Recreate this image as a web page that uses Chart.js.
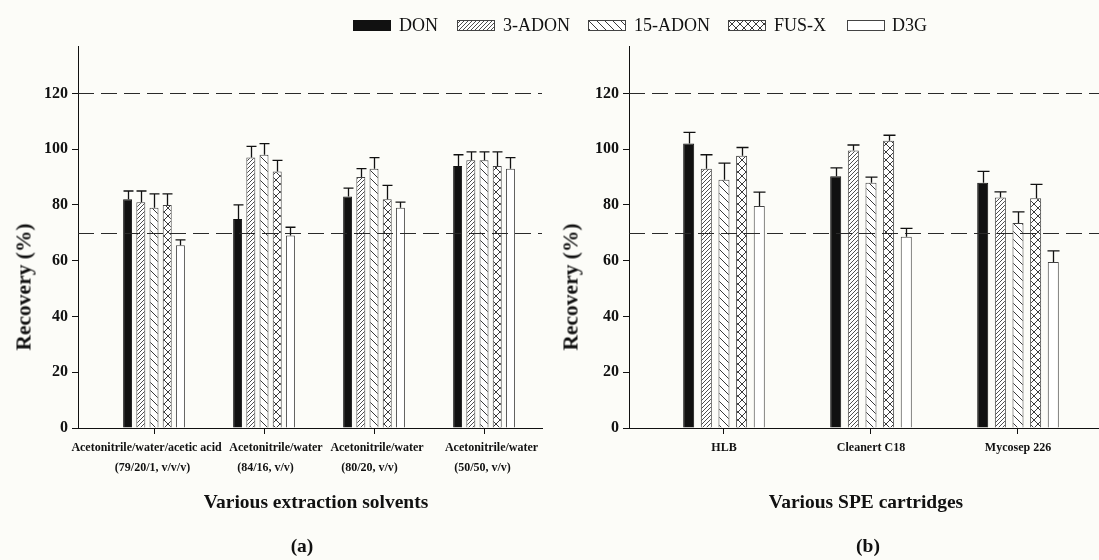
<!DOCTYPE html>
<html>
<head>
<meta charset="utf-8">
<script src="https://cdn.jsdelivr.net/npm/chart.js@4/dist/chart.umd.min.js"></script>
<style>
  html, body { margin:0; padding:0; background:#fcfcf8; }
  body { width:1099px; height:560px; position:relative; overflow:hidden; font-family:"Liberation Serif","Times New Roman",serif; color:#111; }
  canvas.chart { position:absolute; top:0; }
  .t { position:absolute; white-space:nowrap; font-weight:bold; transform:translate(-50%,-50%); }
  .ytitle { position:absolute; white-space:nowrap; font-weight:bold; font-size:21.5px; transform:translate(-50%,-50%) rotate(-90deg); }
  .leg { position:absolute; top:15px; height:20px; display:flex; align-items:center; font-size:18px; }
</style>
</head>
<body>
<canvas id="cA" class="chart" width="560" height="560" style="left:0px"></canvas>
<canvas id="cB" class="chart" width="549" height="560" style="left:550px"></canvas>
<div id="legend"></div>
<div class="ytitle" style="left:24px; top:287px;">Recovery (%)</div>
<div class="ytitle" style="left:571px; top:287px;">Recovery (%)</div>
<div class="t" style="left:316px; top:502px; font-size:19.5px;">Various extraction solvents</div>
<div class="t" style="left:302px; top:546px; font-size:19.5px;">(a)</div>
<div class="t" style="left:866px; top:502px; font-size:19.5px;">Various SPE cartridges</div>
<div class="t" style="left:868px; top:546px; font-size:19.5px;">(b)</div>
<script>
// ---------- data ----------
const seriesNames = ['DON', '3-ADON', '15-ADON', 'FUS-X', 'D3G'];
const categoriesA = [
  ['Acetonitrile/water/acetic acid', '(79/20/1, v/v/v)'],
  ['Acetonitrile/water', '(84/16, v/v)'],
  ['Acetonitrile/water', '(80/20, v/v)'],
  ['Acetonitrile/water', '(50/50, v/v)']
];
const categoriesB = ['HLB', 'Cleanert C18', 'Mycosep 226'];

const donA = [82, 75, 83, 94];
const donAErr = [3, 5, 3, 4];
const adon3A = [81, 97, 90, 96];
const adon3AErr = [4, 4, 3, 3];
const adon15A = [79, 98, 93, 96];
const adon15AErr = [5, 4, 4, 3];
const fusxA = [80, 92, 82, 94];
const fusxAErr = [4, 4, 5, 5];
const d3gA = [65.5, 69, 79, 93];
const d3gAErr = [2, 3, 2, 4];

const donB = [102, 90.3, 88];
const donBErr = [4, 3, 4];
const adon3B = [93, 99.5, 82.7];
const adon3BErr = [5, 2, 2];
const adon15B = [89, 88, 73.5];
const adon15BErr = [6, 2, 4];
const fusxB = [97.6, 103, 82.4];
const fusxBErr = [3, 2, 5];
const d3gB = [79.6, 68.6, 59.5];
const d3gBErr = [5, 3, 4];

const yTicks = [0, 20, 40, 60, 80, 100, 120];
const yMax = 137;
const refLines = [70, 120];

// label horizontal nudges (px) per line, as in the original figure
const labelShiftA = [[-8, -2], [12, 1], [3, -5], [8, -1]];
const labelShiftB = [[0], [0], [0]];

function shiftText(text, px) {
  const n = Math.round(Math.abs(px) * 2 / 3);
  const sp = ' '.repeat(n);
  return px > 0 ? sp + text : text + sp;
}

// ---------- patterns ----------
function makePattern(kind) {
  const s = kind === 'fwd' ? 4 : 8;
  const c = document.createElement('canvas');
  c.width = s; c.height = s;
  const g = c.getContext('2d');
  g.fillStyle = '#ffffff';
  g.fillRect(0, 0, s, s);
  if (kind === 'none') return g.createPattern(c, 'repeat');
  g.strokeStyle = '#3a3a3a';
  g.lineWidth = kind === 'fwd' ? 0.9 : 1;
  g.beginPath();
  if (kind === 'fwd' || kind === 'cross') {
    g.moveTo(-1, s + 1); g.lineTo(s + 1, -1);
    g.moveTo(-1, 1); g.lineTo(1, -1);
    g.moveTo(s - 1, s + 1); g.lineTo(s + 1, s - 1);
  }
  if (kind === 'back' || kind === 'cross') {
    g.moveTo(-1, -1); g.lineTo(s + 1, s + 1);
    g.moveTo(s - 1, -1); g.lineTo(s + 1, 1);
    g.moveTo(-1, s - 1); g.lineTo(1, s + 1);
  }
  g.stroke();
  return g.createPattern(c, 'repeat');
}
const fills = ['#111111', makePattern('fwd'), makePattern('back'), makePattern('cross'), '#ffffff'];

// ---------- legend ----------
const legendPos = [[353, 399], [457, 503], [588, 634], [728, 774], [847, 892]];
const legendDiv = document.getElementById('legend');
seriesNames.forEach((name, i) => {
  const item = document.createElement('div');
  item.className = 'leg';
  item.style.left = legendPos[i][0] + 'px';
  const sw = document.createElement('canvas');
  sw.width = 38; sw.height = 11;
  const g = sw.getContext('2d');
  g.fillStyle = fills[i];
  g.fillRect(0, 0, 38, 11);
  g.strokeStyle = i === 0 ? '#111' : '#444';
  g.lineWidth = 1;
  g.strokeRect(0.5, 0.5, 37, 10);
  sw.style.marginRight = (legendPos[i][1] - legendPos[i][0] - 38) + 'px';
  item.appendChild(sw);
  const tx = document.createElement('span');
  tx.textContent = name;
  item.appendChild(tx);
  legendDiv.appendChild(item);
});

// ---------- plugins ----------
const extrasPlugin = {
  id: 'extras',
  afterDatasetsDraw(chart) {
    const ctx = chart.ctx;
    const ys = chart.scales.y;
    const area = chart.chartArea;
    ctx.save();
    ctx.strokeStyle = '#2a2a2a';
    ctx.lineWidth = 1.2;
    ctx.setLineDash([16, 7]);
    refLines.forEach(v => {
      const py = Math.round(ys.getPixelForValue(v)) + 0.5;
      ctx.beginPath();
      ctx.moveTo(area.left, py);
      ctx.lineTo(area.right, py);
      ctx.stroke();
    });
    ctx.setLineDash([]);
    ctx.strokeStyle = '#111';
    ctx.lineWidth = 1.3;
    chart.data.datasets.forEach((ds, i) => {
      const meta = chart.getDatasetMeta(i);
      meta.data.forEach((bar, j) => {
        const v = ds.data[j].y;
        const e = ds.errors[j];
        const yTop = ys.getPixelForValue(v + e);
        const x = Math.round(bar.x) + 0.5;
        const hw = bar.width / 2 + 0.5;
        ctx.beginPath();
        ctx.moveTo(x, bar.y);
        ctx.lineTo(x, yTop);
        ctx.moveTo(x - hw, yTop);
        ctx.lineTo(x + hw, yTop);
        ctx.stroke();
      });
    });
    ctx.restore();
  }
};

function buildChart(canvasId, cats, shifts, seriesVals, seriesErrs, xMin, xMax, yWidth, padRight, catPct, barPct, tickFontSize) {
  const datasets = seriesNames.map((name, i) => ({
    label: name,
    data: seriesVals[i].map((v, j) => ({ x: j, y: v })),
    errors: seriesErrs[i],
    backgroundColor: fills[i],
    borderColor: i === 0 ? '#111' : '#444',
    borderWidth: 1,
    categoryPercentage: catPct,
    barPercentage: barPct
  }));
  return new Chart(document.getElementById(canvasId), {
    type: 'bar',
    data: { datasets },
    plugins: [extrasPlugin],
    options: {
      responsive: false,
      animation: false,
      devicePixelRatio: 1,
      layout: { padding: { left: 0, right: padRight, top: 46, bottom: 0 } },
      plugins: { legend: { display: false }, tooltip: { enabled: false } },
      scales: {
        x: {
          type: 'linear',
          offset: false,
          min: xMin,
          max: xMax,
          afterBuildTicks: (axis) => { axis.ticks = cats.map((c, i) => ({ value: i })); },
          afterFit: (s) => { s.height = 132; },
          ticks: {
            autoSkip: false,
            maxRotation: 0,
            minRotation: 0,
            padding: 4,
            color: '#111',
            font: { family: 'Liberation Serif', weight: 'bold', size: tickFontSize, lineHeight: 1.65 },
            callback: (value) => {
              const lab = cats[value];
              if (lab === undefined) return '';
              const lines = Array.isArray(lab) ? lab : [lab];
              return lines.map((ln, k) => shiftText(ln, (shifts[value] || [])[k] || 0));
            }
          },
          grid: { display: true, offset: false, drawOnChartArea: false, drawTicks: true, tickLength: 6, color: '#111', lineWidth: 1 },
          border: { display: true, color: '#111', width: 1 }
        },
        y: {
          min: 0,
          max: yMax,
          afterBuildTicks: (axis) => { axis.ticks = yTicks.map(v => ({ value: v })); },
          afterFit: (s) => { s.width = yWidth; },
          ticks: {
            padding: 4,
            color: '#111',
            font: { family: 'Liberation Serif', weight: 'bold', size: 16 }
          },
          grid: { display: true, drawOnChartArea: false, drawTicks: true, tickLength: 6, color: '#111', lineWidth: 1 },
          border: { display: true, color: '#111', width: 1 }
        }
      }
    }
  });
}

buildChart('cA', categoriesA, labelShiftA,
  [donA, adon3A, adon15A, fusxA, d3gA],
  [donAErr, adon3AErr, adon15AErr, fusxAErr, d3gAErr],
  -0.691, 3.527, 78, 18, 0.6, 0.68, 12);

buildChart('cB', categoriesB, labelShiftB,
  [donB, adon3B, adon15B, fusxB, d3gB],
  [donBErr, adon3BErr, adon15BErr, fusxBErr, d3gBErr],
  -0.646, 2.551, 79, 0, 0.6, 0.625, 12);
</script>
</body>
</html>
